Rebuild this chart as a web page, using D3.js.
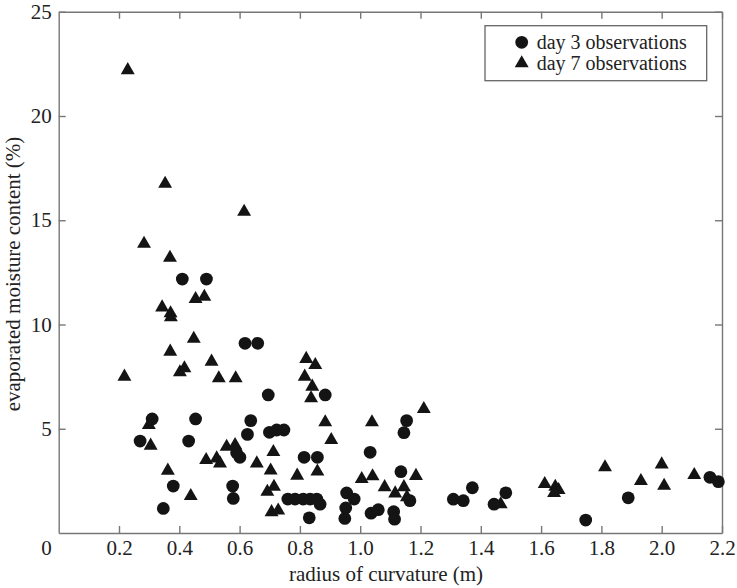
<!DOCTYPE html>
<html>
<head>
<meta charset="utf-8">
<script src="https://cdn.jsdelivr.net/npm/d3@7"></script>
<style>
  body { margin: 0; background: #fff; }
  text { font-family: "Liberation Serif", "Times New Roman", serif; fill: #222; }
  .axis path, .axis line { stroke: #777; stroke-width: 1.4; }
  .axis text { font-size: 21px; fill: #222; }
</style>
</head>
<body>
<div id="chart"></div>
<script>
let w = 737;
let h = 588;

// day 3 observations: radius (m), evaporated moisture (%)
let day3_x = [0.410, 0.490, 0.618, 0.660, 0.695, 0.884, 0.310, 0.454, 0.270, 0.431,
    0.637, 0.626, 0.699, 0.723, 0.747, 0.590, 0.601, 0.814, 0.858, 0.380,
    0.577, 0.579, 0.347, 0.760, 0.784, 0.811, 0.834, 0.856, 0.867, 0.831,
    0.955, 0.980, 0.952, 0.949, 1.154, 1.145, 1.033, 1.135, 1.165, 1.036,
    1.060, 1.111, 1.114, 1.309, 1.342, 1.372, 1.444, 1.483, 1.748, 1.889,
    2.160, 2.188];
let day3_y = [12.18, 12.18, 9.10, 9.10, 6.62, 6.62, 5.47, 5.47, 4.41, 4.41,
    5.39, 4.73, 4.83, 4.94, 4.94, 3.85, 3.63, 3.63, 3.63, 2.25,
    2.25, 1.66, 1.18, 1.63, 1.63, 1.63, 1.63, 1.63, 1.38, 0.73,
    1.92, 1.63, 1.20, 0.70, 5.39, 4.81, 3.87, 2.94, 1.55, 0.95,
    1.12, 1.02, 0.66, 1.62, 1.55, 2.17, 1.38, 1.93, 0.62, 1.69,
    2.67, 2.46];

// day 7 observations
let day7_x = [0.229, 0.353, 0.615, 0.283, 0.369, 0.454, 0.483, 0.343, 0.371, 0.372,
    0.448, 0.370, 0.507, 0.402, 0.417, 0.218, 0.531, 0.587, 0.821, 0.851,
    0.816, 0.841, 0.837, 0.299, 0.305, 0.884, 0.904, 0.712, 0.557, 0.585,
    0.489, 0.524, 0.535, 0.657, 0.703, 0.858, 0.791, 0.362, 0.438, 0.692,
    0.714, 0.706, 0.728, 1.039, 1.211, 1.005, 1.041, 1.185, 1.081, 1.116,
    1.145, 1.155, 1.466, 1.612, 1.647, 1.658, 1.643, 1.812, 1.931, 2.000,
    2.008, 2.108];
let day7_y = [22.2, 16.75, 15.41, 13.87, 13.2, 11.22, 11.33, 10.82, 10.54, 10.35,
    9.32, 8.70, 8.22, 7.71, 7.90, 7.50, 7.42, 7.42, 8.35, 8.06,
    7.50, 7.02, 6.46, 5.18, 4.19, 5.31, 4.46, 3.88, 4.14, 4.22,
    3.50, 3.58, 3.34, 3.34, 3.00, 2.95, 2.75, 2.99, 1.77, 1.98,
    2.22, 1.00, 1.08, 5.31, 5.95, 2.59, 2.72, 2.74, 2.20, 1.90,
    2.20, 1.72, 1.38, 2.35, 2.22, 2.06, 1.92, 3.15, 2.49, 3.29,
    2.27, 2.78];

let x_ticks = [0.2, 0.4, 0.6, 0.8, 1.0, 1.2, 1.4, 1.6, 1.8, 2.0, 2.2];
let y_ticks = [5, 10, 15, 20, 25];
let legend_labels = ["day 3 observations", "day 7 observations"];

let m_left = 58.7, m_right = 722, m_top = 11.75, m_bottom = 533;
let tick_len = 7;

let x_scale = d3.scaleLinear()
    .domain([0, 2.2])
    .range([m_left, m_right]);

let y_scale = d3.scaleLinear()
    .domain([0, 25])
    .range([m_bottom, m_top]);

let svg = d3.select("#chart")
    .append("svg")
    .attr("width", w)
    .attr("height", h);

// frame with inward ticks
svg.append("g")
    .attr("class", "axis")
    .attr("transform", "translate(0, " + m_bottom + ")")
    .call(d3.axisBottom(x_scale).tickValues(x_ticks).tickFormat(d3.format(".1f"))
        .tickSizeInner(-tick_len).tickSizeOuter(0).tickPadding(7));

svg.append("g")
    .attr("class", "axis")
    .attr("transform", "translate(0, " + m_top + ")")
    .call(d3.axisTop(x_scale).tickValues(x_ticks).tickFormat("")
        .tickSizeInner(-tick_len).tickSizeOuter(0));

svg.append("g")
    .attr("class", "axis")
    .attr("transform", "translate(" + m_left + ", 0)")
    .call(d3.axisLeft(y_scale).tickValues(y_ticks)
        .tickSizeInner(-tick_len).tickSizeOuter(0).tickPadding(7));

svg.append("g")
    .attr("class", "axis")
    .attr("transform", "translate(" + m_right + ", 0)")
    .call(d3.axisRight(y_scale).tickValues(y_ticks).tickFormat("")
        .tickSizeInner(-tick_len).tickSizeOuter(0));

svg.selectAll(".axis").attr("font-family", null);
svg.selectAll(".axis text").attr("fill", "#222");

// shared zero in the corner
svg.append("text")
    .attr("x", x_scale(0) - 7)
    .attr("y", m_bottom + 7)
    .attr("dy", "0.71em")
    .attr("text-anchor", "end")
    .style("font-size", "21px")
    .text("0");

svg.append("text")
    .attr("x", 386)
    .attr("y", 581)
    .attr("text-anchor", "middle")
    .style("font-size", "21px")
    .text("radius of curvature (m)");

svg.append("text")
    .attr("transform", "translate(19.5, 274) rotate(-90)")
    .attr("text-anchor", "middle")
    .style("font-size", "21px")
    .text("evaporated moisture content (%)");

let circle = d3.symbol().type(d3.symbolCircle).size(128);
let triangle = d3.symbol().type(d3.symbolTriangle).size(84);

svg.append("g")
    .selectAll("path")
    .data(day7_x)
    .enter()
    .append("path")
    .attr("d", triangle)
    .attr("transform", (d, i) => "translate(" + x_scale(d) + "," + y_scale(day7_y[i]) + ")")
    .attr("fill", "#141414");

svg.append("g")
    .selectAll("path")
    .data(day3_x)
    .enter()
    .append("path")
    .attr("d", circle)
    .attr("transform", (d, i) => "translate(" + x_scale(d) + "," + y_scale(day3_y[i]) + ")")
    .attr("fill", "#141414");

// legend
let legend = svg.append("g");

legend.append("rect")
    .attr("x", 485)
    .attr("y", 25.7)
    .attr("width", 221.7)
    .attr("height", 55)
    .attr("fill", "#fff")
    .attr("stroke", "#666")
    .attr("stroke-width", 1.3);

let legend_rows = legend.selectAll("g.row")
    .data(legend_labels)
    .enter()
    .append("g")
    .attr("class", "row")
    .attr("transform", (d, i) => "translate(0, " + (42.3 + i * 21) + ")");

legend_rows.append("path")
    .attr("d", (d, i) => i === 0 ? circle() : triangle())
    .attr("transform", "translate(521.7, 0)")
    .attr("fill", "#141414");

legend_rows.append("text")
    .attr("x", 536.7)
    .attr("y", 6.5)
    .style("font-size", "20px")
    .text(d => d);
</script>
</body>
</html>
